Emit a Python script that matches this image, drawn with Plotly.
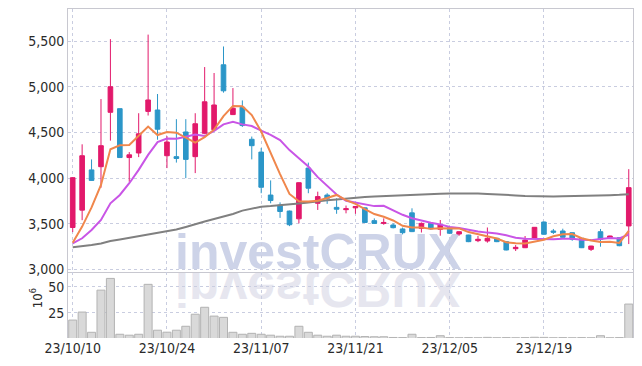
import plotly.graph_objects as go

# ---------------- data ----------------
dates = [
    "2023-10-10", "2023-10-11", "2023-10-12", "2023-10-13", "2023-10-16", "2023-10-17", "2023-10-18",
    "2023-10-19", "2023-10-20", "2023-10-23", "2023-10-24", "2023-10-25", "2023-10-26", "2023-10-27",
    "2023-10-30", "2023-10-31", "2023-11-01", "2023-11-02", "2023-11-03", "2023-11-06", "2023-11-07",
    "2023-11-08", "2023-11-09", "2023-11-10", "2023-11-13", "2023-11-14", "2023-11-15", "2023-11-16",
    "2023-11-17", "2023-11-20", "2023-11-21", "2023-11-22", "2023-11-23", "2023-11-24", "2023-11-27",
    "2023-11-28", "2023-11-29", "2023-11-30", "2023-12-01", "2023-12-04", "2023-12-05", "2023-12-06",
    "2023-12-07", "2023-12-08", "2023-12-11", "2023-12-12", "2023-12-13", "2023-12-14", "2023-12-15",
    "2023-12-18", "2023-12-19", "2023-12-20", "2023-12-21", "2023-12-22", "2023-12-26", "2023-12-27",
    "2023-12-28", "2024-01-02", "2024-01-03", "2024-01-04",
]

opens = [3460, 3650, 4090, 4125, 4720, 4760, 4225, 4275, 4730, 4745,
         4245, 4235, 4505, 4235, 4490, 4530, 5240, 4695, 4775, 4425,
         4285, 3815, 3705, 3640, 3555, 4110, 3725, 3815, 3680, 3655,
         3675, 3675, 3535, 3505, 3487, 3444, 3620, 3450, 3505, 3440,
         3462, 3389, 3378, 3316, 3312, 3342, 3305, 3228, 3239, 3342,
         3520, 3422, 3422, 3403, 3342, 3221, 3414, 3348, 3348, 3477]
highs = [4010, 4370, 4205, 4865, 5520, 4760, 4285, 4710, 5570, 4920,
         4460, 4645, 4645, 4710, 5215, 5150, 5440, 4985, 4850, 4455,
         4330, 3975, 3735, 3645, 3955, 4170, 3852, 3835, 3780, 3700,
         3692, 3680, 3560, 3560, 3505, 3460, 3670, 3515, 3510, 3542,
         3470, 3418, 3380, 3367, 3460, 3345, 3310, 3268, 3367, 3465,
         3525, 3444, 3447, 3405, 3345, 3260, 3444, 3370, 3350, 4098]
lows = [3410, 3540, 3970, 3895, 4410, 4225, 3960, 4230, 4685, 4420,
        4110, 4170, 4000, 4055, 4480, 4520, 4935, 4690, 4560, 4205,
        3835, 3725, 3565, 3475, 3505, 3835, 3652, 3718, 3610, 3615,
        3610, 3510, 3500, 3490, 3450, 3385, 3410, 3405, 3435, 3370,
        3390, 3370, 3300, 3300, 3294, 3300, 3210, 3203, 3235, 3340,
        3380, 3389, 3350, 3315, 3235, 3203, 3250, 3345, 3255, 3279]
closes = [4005, 4245, 3975, 4355, 5000, 4225, 4255, 4485, 4855, 4535,
          4395, 4215, 4205, 4595, 4835, 4800, 4955, 4765, 4575, 4355,
          3900, 3755, 3635, 3490, 3950, 3890, 3798, 3780, 3660, 3665,
          3690, 3515, 3505, 3515, 3458, 3403, 3415, 3505, 3445, 3487,
          3397, 3414, 3305, 3331, 3342, 3305, 3214, 3243, 3323, 3462,
          3386, 3408, 3353, 3331, 3239, 3257, 3331, 3367, 3261, 3896]

ma_short = [3294, 3470, 3680, 3925, 4316, 4360, 4362, 4464, 4564, 4471,
            4505, 4497, 4441, 4389, 4449, 4530, 4678, 4790, 4786, 4690,
            4510, 4270, 4044, 3827, 3746, 3744, 3753, 3782, 3816, 3759,
            3719, 3662, 3607, 3578, 3537, 3479, 3459, 3459, 3445, 3451,
            3450, 3450, 3410, 3387, 3358, 3339, 3299, 3287, 3285, 3309,
            3326, 3364, 3386, 3388, 3343, 3318, 3302, 3305, 3291, 3422]
ma_mid = [3287, 3342, 3433, 3542, 3725, 3816, 3944, 4090, 4254, 4394,
          4433, 4430, 4453, 4477, 4460, 4518, 4588, 4616, 4588, 4570,
          4520, 4474, 4417, 4307, 4218, 4127, 4011, 3913, 3821, 3752,
          3731, 3707, 3694, 3697, 3648, 3599, 3561, 3533, 3512, 3494,
          3465, 3454, 3434, 3416, 3404, 3395, 3375, 3348, 3336, 3334,
          3333, 3332, 3337, 3337, 3326, 3322, 3333, 3346, 3340, 3383]
ma_long = [3243, 3254, 3268, 3285, 3312, 3329, 3347, 3362, 3383, 3405,
           3416, 3438, 3466, 3498, 3526, 3553, 3581, 3608, 3645, 3670,
           3688, 3695, 3707, 3714, 3723, 3734, 3748, 3758, 3767, 3778,
           3786, 3794, 3800, 3805, 3811, 3816, 3819, 3824, 3827, 3830,
           3833, 3835, 3835, 3833, 3827, 3824, 3816, 3811, 3805, 3802,
           3800, 3800, 3802, 3803, 3805, 3807, 3810, 3814, 3818, 3825]

volumes = [18.0, 25.7, 6.2, 46.8, 58.1, 4.3, 3.4, 4.3, 52.4, 8.2,
           6.3, 8.2, 12.0, 23.6, 30.3, 21.8, 20.6, 6.2, 4.3, 5.2,
           4.3, 3.4, 2.4, 2.4, 12.0, 6.2, 3.4, 2.4, 3.4, 2.4,
           2.4, 2.1, 1.9, 1.9, 1.2, 1.1, 4.3, 1.1, 1.2, 2.9,
           1.1, 1.0, 1.1, 1.0, 1.3, 1.0, 1.1, 1.0, 1.1, 1.4,
           1.3, 1.0, 1.1, 1.0, 1.1, 1.0, 2.9, 1.0, 1.1, 33.4]

tick_dates = ["2023-10-10", "2023-10-24", "2023-11-07", "2023-11-21", "2023-12-05", "2023-12-19"]
tick_labels = ["23/10/10", "23/10/24", "23/11/07", "23/11/21", "23/12/05", "23/12/19"]
price_ticks = [3000, 3500, 4000, 4500, 5000, 5500]
volume_ticks = [25, 50]
watermark = "investCRUX"

# ---------------- styles ----------------
RED = "#e2196b"
BLUE = "#2b96c8"
GRID = "#c9cde0"
FRAME = "#c8c8d0"
FONT = "DejaVu Sans Condensed, Liberation Sans Narrow, sans-serif"
tickfont = dict(family=FONT, size=14, color="#2a2a2a")

fig = go.Figure()
fig.add_trace(go.Candlestick(
    x=dates, open=opens, high=highs, low=lows, close=closes,
    xaxis="x", yaxis="y", whiskerwidth=0, showlegend=False,
    increasing=dict(line=dict(color=RED, width=1), fillcolor=RED),
    decreasing=dict(line=dict(color=BLUE, width=1), fillcolor=BLUE),
))
fig.add_trace(go.Scatter(x=dates, y=ma_long, mode="lines", showlegend=False,
                         line=dict(color="#808080", width=2), xaxis="x", yaxis="y"))
fig.add_trace(go.Scatter(x=dates, y=ma_mid, mode="lines", showlegend=False,
                         line=dict(color="#c955e6", width=2), xaxis="x", yaxis="y"))
fig.add_trace(go.Scatter(x=dates, y=ma_short, mode="lines", showlegend=False,
                         line=dict(color="#f0874c", width=2), xaxis="x", yaxis="y"))
fig.add_trace(go.Bar(x=dates, y=volumes, xaxis="x2", yaxis="y2", width=0.85, showlegend=False,
                     marker=dict(color="#d9d9d9", line=dict(color="#b3b3b3", width=1))))

SPLIT = 0.1997
xcommon = dict(type="category", range=[-0.5, 59.45], tickvals=tick_dates, ticktext=tick_labels,
               showgrid=True, gridcolor=GRID, griddash="dot", gridwidth=1, zeroline=False,
               ticks="", tickfont=tickfont, automargin=False)
fig.update_layout(
    template="none",
    width=642, height=366,
    margin=dict(l=68, r=9, t=9, b=28, autoexpand=False),
    paper_bgcolor="white", plot_bgcolor="white",
    showlegend=False,
    xaxis=dict(**xcommon, anchor="y", showticklabels=False, showline=True, mirror=True,
               linecolor=FRAME, linewidth=1, rangeslider=dict(visible=False)),
    xaxis2=dict(**xcommon, anchor="y2", matches="x", showticklabels=True, showline=False),
    yaxis=dict(domain=[SPLIT, 1], range=[2970, 5850], tickvals=price_ticks, tickformat=",d",
               showgrid=True, gridcolor=GRID, griddash="dot", zeroline=False, ticks="",
               showline=True, mirror=True, linecolor=FRAME, linewidth=1, tickfont=tickfont,
               automargin=False),
    yaxis2=dict(domain=[0, SPLIT], range=[0.7, 64], tickvals=volume_ticks,
                showgrid=True, gridcolor=GRID, griddash="dot", zeroline=False, ticks="",
                showline=True, mirror=True, linecolor=FRAME, linewidth=1, tickfont=tickfont,
                automargin=False),
    annotations=[
        dict(text="10<sup>6</sup>", xref="paper", yref="paper", x=-0.074, y=0.085,
             showarrow=False, textangle=-90, font=dict(family=FONT, size=13, color="#2a2a2a")),
        dict(text="<b>" + watermark + "</b>", xref="paper", yref="paper", x=0.443, y=0.262,
             xanchor="center", yanchor="middle", showarrow=False,
             font=dict(family="Liberation Sans, Arial, sans-serif", size=50, color="#cdd3e8")),
        dict(text="<b>" + watermark + "</b>", xref="paper", yref="paper", x=0.443, y=0.150,
             xanchor="center", yanchor="middle", showarrow=False,
             font=dict(family="Liberation Sans, Arial, sans-serif", size=50, color="#e6e6ef")),
    ],
)

post = """
document.body.style.margin = '0';
document.body.style.padding = '0';
var gd = document.getElementById('{plot_id}');
(function(){
  var below = gd.querySelector('svg.main-svg .layer-below');
  var anns = gd.querySelectorAll('.infolayer g.annotation');
  anns.forEach(function(a){
    var idx = a.getAttribute('data-index');
    if (idx !== '1' && idx !== '2') return;
    var t = a.querySelector('text');
    if (idx === '2' && t) {
      t.style.transformBox = 'fill-box';
      t.style.transformOrigin = 'center';
      t.style.transform = 'scaleY(-1)';
    }
    if (below) below.appendChild(a);
  });
})();
"""

fig.write_html("out.html", post_script=post, config={"displayModeBar": False})
